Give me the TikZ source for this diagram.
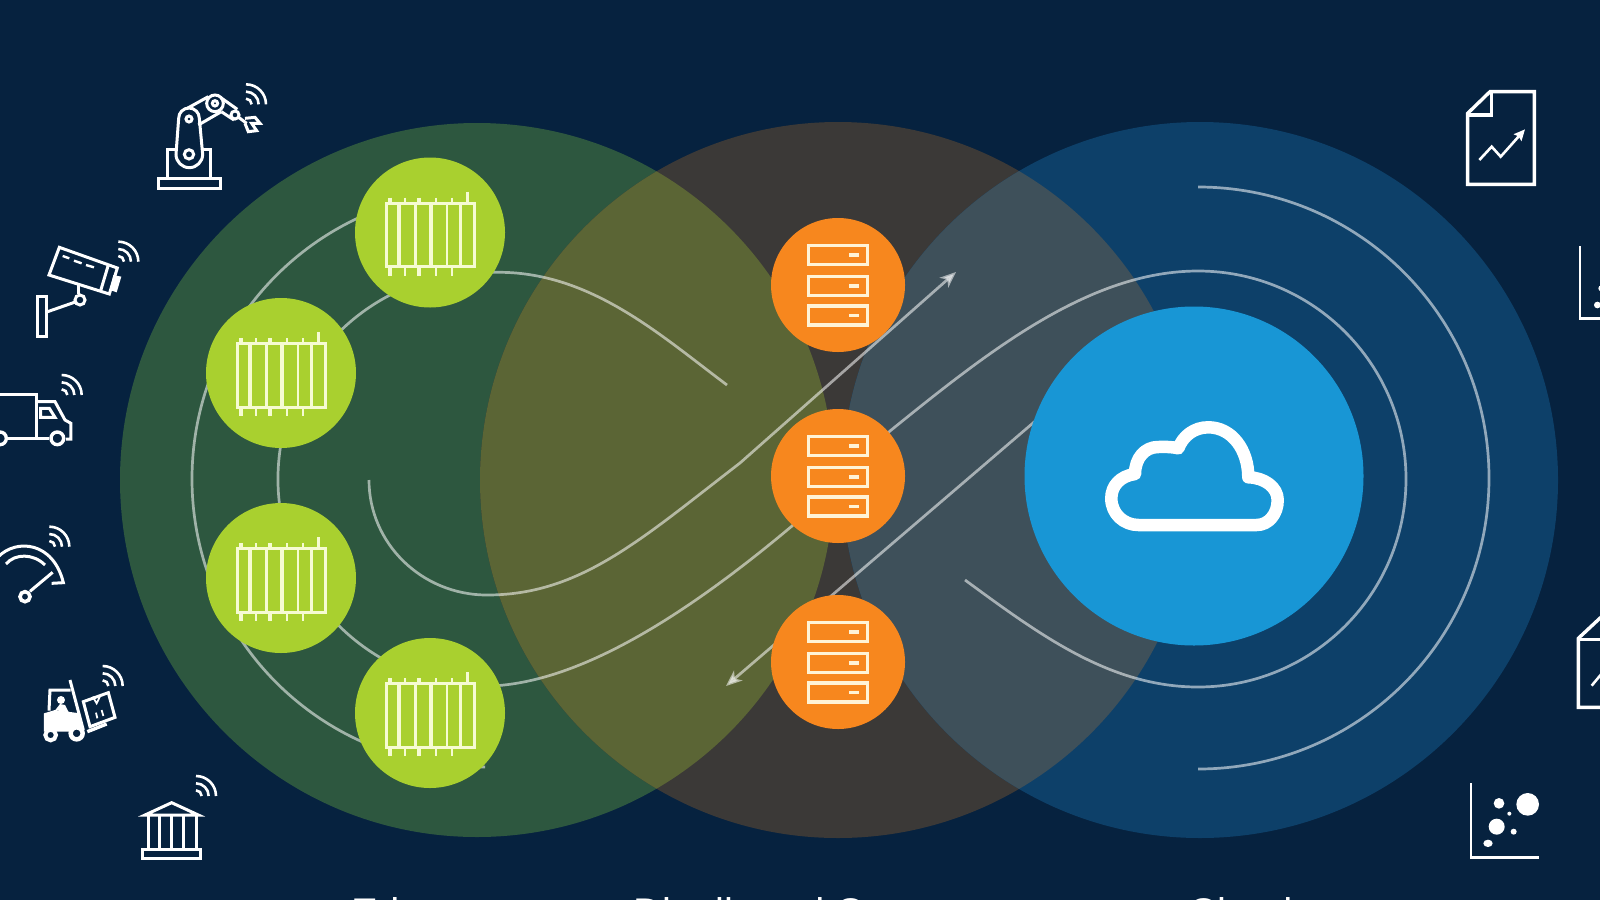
\documentclass[tikz,border=0pt]{standalone}
\usepackage{fontspec}
\setmainfont{Liberation Sans}
\usetikzlibrary{arrows.meta}
\definecolor{bgnavy}{HTML}{06223F}
\definecolor{ringgreen}{HTML}{2D573F}
\definecolor{ringmid}{HTML}{3B3937}
\definecolor{ringblue}{HTML}{0D4069}
\definecolor{mixolive}{HTML}{5B6535}
\definecolor{mixslate}{HTML}{3E505A}
\definecolor{hublime}{HTML}{A9D02F}
\definecolor{huborange}{HTML}{F7871E}
\definecolor{hubblue}{HTML}{1896D5}
\definecolor{creamline}{HTML}{FFF3D6}
\definecolor{limeline}{HTML}{F6FBD2}
\tikzset{
  flowline/.style={draw=white,opacity=.55,line width=2.7pt},
  flowtip/.style={-{Stealth[length=16pt,width=13pt,inset=4.5pt]}},
  limehub/.style={circle,fill=hublime,inner sep=0pt,minimum size=150pt},
  orangehub/.style={circle,fill=huborange,inner sep=0pt,minimum size=134pt},
  icon/.style={draw=white,line width=3pt},
  wifiarc/.style={draw=white,line width=2.6pt},
  zonelabel/.style={text=white,font=\fontsize{40}{48}\selectfont,inner sep=0pt,anchor=base west},
  rack/.pic={
    \draw[limeline,line width=3pt] (-44,-29.5) rectangle (44.7,34);
    \foreach \vx/\vw in {-31.3/3.6,-15/3,1/3.6,16.7/2.4,30/3}{\draw[limeline,line width=\vw pt] (\vx,-29.5) -- (\vx,34);}
    \foreach \tx/\tw in {-40/4,-25/2,-10.7/4,6/2,21.7/2}{
      \draw[limeline,line width=\tw pt] (\tx,-35) -- (\tx,-29.5);
      \draw[limeline,line width=\tw pt] (\tx,34) -- (\tx,43);}
    \draw[limeline,line width=2.4pt] (37.3,-41) -- (37.3,-29.5);
  },
  server/.pic={
    \foreach \ry in {-30,1,30.5}{
      \draw[creamline,line width=3.2pt] (-29.5,\ry-9.5) rectangle (29.5,\ry+9.5);
      \draw[creamline,line width=3.6pt] (11,\ry) -- (21,\ry);}
  },
  wifi/.pic={
    \foreach \wr in {17,38,60}{\draw[wifiarc] (0,-\wr) arc[start angle=-90,end angle=0,radius=\wr];}
  }
}
\begin{document}
\begin{tikzpicture}[x=1pt,y=-1pt]
\useasboundingbox (0,0) rectangle (1600,900);
\clip (0,0) rectangle (1600,900);
\fill[bgnavy] (0,0) rectangle (1600,900);
% large zones
\fill[ringgreen] (477,480) circle[radius=357];
\fill[ringmid] (838,480) circle[radius=358];
\fill[ringblue] (1200,480) circle[radius=358];
\begin{scope}
  \clip (477,480) circle[radius=357];
  \fill[mixolive] (838,480) circle[radius=358];
\end{scope}
\begin{scope}
  \clip (1200,480) circle[radius=358];
  \fill[mixslate] (838,480) circle[radius=358];
\end{scope}
% free ends of the flow lines
\coordinate (hookEnd) at (727,385);
\coordinate (hookTop) at (495.8,272.3);
\coordinate (midLow) at (792,526);
\coordinate (midHigh) at (890,431);
\coordinate (rightTop) at (1198,271);
\coordinate (tailEnd) at (965,580);
\coordinate (spiralStart) at (369,480);
\coordinate (spiralMid) at (740,463);
\coordinate (tipUp) at (956,272);
\coordinate (tipDown) at (726,686);
\coordinate (backStart) at (1040,417);
\coordinate (outerTopR) at (1198,187);
\coordinate (outerTopL) at (480,191);
% flow lines
\draw[flowline] (outerTopL) arc[start angle=-90,end angle=-271,radius=288];
\draw[flowline] (outerTopR) arc[start angle=-90,end angle=90,radius=291];
\draw[flowline] (hookEnd) .. controls (660,335) and (590,271) .. (hookTop)
   arc[start angle=-87,end angle=-273,radius=207]
   .. controls (580,680) and (680,620) .. (midLow) -- (midHigh)
   .. controls (990,350) and (1090,271) .. (rightTop)
   arc[start angle=-90,end angle=90,radius=208]
   .. controls (1110,687) and (1040,635) .. (tailEnd);
\draw[flowline,flowtip] (spiralStart) arc[start angle=180,end angle=90,x radius=118,y radius=115]
   .. controls (580,595) and (640,540) .. (spiralMid) -- (tipUp);
\draw[flowline,flowtip] (backStart) -- (tipDown);
% hubs
\node[limehub] (edgeA) at (430,232.5) {};
\node[limehub] (edgeB) at (281,373) {};
\node[limehub] (edgeC) at (281,578) {};
\node[limehub] (edgeD) at (430,713) {};
\node[orangehub] (serverA) at (838,285) {};
\node[orangehub] (serverB) at (838,476) {};
\node[orangehub] (serverC) at (838,662) {};
\node[circle,fill=hubblue,inner sep=0pt,minimum size=339pt] (cloudHub) at (1194,476) {};
\pic at (edgeA) {rack};
\pic at (edgeB) {rack};
\pic at (edgeC) {rack};
\pic at (edgeD) {rack};
\pic at (serverA) {server};
\pic at (serverB) {server};
\pic at (serverC) {server};
% cloud
\draw[white,line width=12.5pt,line join=round] (1138.3,525) -- (1256.7,525)
  .. controls (1268.7,525) and (1277.7,514) .. (1277.7,500)
  .. controls (1277.7,487) and (1264,477.5) .. (1248.3,477.3)
  .. controls (1248.3,450) and (1232,427.3) .. (1208.3,427.3)
  .. controls (1194,427.3) and (1183,436) .. (1178.3,448.3)
  .. controls (1170,446.5) and (1165,447) .. (1158,447)
  .. controls (1145,447) and (1135,458) .. (1135,474)
  .. controls (1120,476) and (1111.3,486) .. (1111.3,498.3)
  .. controls (1111.3,514) and (1124,525) .. cycle;
% left icons, upper group
\begin{scope}[shift={(0,60)},x=.33333pt,y=-.33333pt]
  % robot arm
  \draw[icon] (475,356) rectangle (663,384);
  \draw[icon] (527,268) -- (503,268) -- (503,356);
  \draw[icon] (607,268) -- (632,268) -- (632,356);
  \draw[icon] (528,283) arc[start angle=180,end angle=0,radius=40] -- (598,175)
     arc[start angle=0,end angle=-180,radius=31] -- cycle;
  \draw[icon] (567,283) circle[radius=14];
  \draw[icon] (567,177) circle[radius=9];
  \draw[icon] (560,146) -- (625,110);
  \draw[icon] (595,195) -- (664,155);
  \draw[icon] (645,130) circle[radius=25];
  \draw[icon] (645,130) circle[radius=8];
  \draw[icon] (664,114) -- (712,148);
  \draw[icon] (664,155) -- (702,180);
  \draw[icon] (705,165) circle[radius=12];
  \draw[icon] (716,172) -- (740,190);
  \draw[icon] (735,175) -- (765,172) -- (780,190) -- (755,190) -- (770,212) -- (745,215) -- (735,190);
  \pic at (738,133) {wifi};
  % camera
  \draw[icon] (178,562) -- (352,624) -- (328,702) -- (147,645) -- cycle;
  \draw[icon] (325,615) -- (302,692);
  \fill[white] (340,645) -- (364,650) -- (350,697) -- (330,690) -- cycle;
  \draw[white,line width=2.4pt] (188,588) -- (208,595) (222,602) -- (245,610) (258,615) -- (282,622);
  \draw[icon] (237,675) -- (237,703);
  \draw[icon] (240,720) circle[radius=15];
  \draw[icon] (226,726) -- (143,755);
  \draw[icon] (113,708) rectangle (140,828);
  \pic at (355,605) {wifi};
  % truck
  \draw[icon] (-5,1003) -- (110,1003) -- (110,1135);
  \draw[icon] (25,1135) -- (148,1135);
  \draw[icon] (110,1025) -- (165,1025) -- (195,1080) -- (213,1090) -- (213,1137) -- (198,1137);
  \draw[icon] (122,1045) -- (148,1045) -- (165,1072) -- (122,1072) -- cycle;
  \draw[white,line width=3.4pt] (172,1135) circle[radius=19];
  \draw[white,line width=3.4pt] (0,1135) circle[radius=19];
  \pic at (185,1005) {wifi};
\end{scope}
% left icons, lower group
\begin{scope}[shift={(0,500)},x=.33333pt,y=-.33333pt]
  % gauge
  \draw[icon] (-5,170) .. controls (50,115) and (160,125) .. (190,248) -- (155,250);
  \draw[icon] (18,192) .. controls (45,160) and (100,160) .. (135,195);
  \draw[icon] (90,274) -- (158,217);
  \draw[white,line width=3.6pt] (75,290) circle[radius=15];
  \pic at (148,140) {wifi};
  % forklift
  \fill[white] (132,695) -- (132,640) -- (165,630) -- (240,640) -- (252,695) -- cycle;
  \draw[icon] (147,632) -- (150,570) -- (212,570);
  \fill[white] (183,600) circle[radius=12];
  \fill[white] (166,630) -- (180,612) -- (195,615) -- (207,638) -- cycle;
  \draw[white,line width=3pt] (210,540) -- (250,690);
  \draw[white,line width=3.4pt] (262,695) -- (320,672);
  \draw[icon] (250,605) -- (325,578) -- (345,652) -- (270,680) -- cycle;
  \draw[white,line width=1.8pt] (292,655) -- (288,638) (310,648) -- (305,630);
  \draw[white,line width=1.8pt] (278,590) -- (290,610) -- (302,585);
  \draw[white,fill=bgnavy,line width=4pt] (152,705) circle[radius=16];
  \draw[white,fill=bgnavy,line width=4.5pt] (230,700) circle[radius=18];
  \pic at (308,558) {wifi};
  % bank
  \draw[icon] (435,945) -- (515,908) -- (595,945) -- cycle;
  \draw[icon] (428,1048) rectangle (602,1075);
  \draw[icon] (445,945) -- (445,1048) (480,945) -- (480,1048) (516,945) -- (516,1048) (552,945) -- (552,1048) (590,945) -- (590,1048);
  \pic at (588,888) {wifi};
\end{scope}
% right icons, upper group
\begin{scope}[shift={(1400,60)},x=.33333pt,y=-.33333pt]
  \draw[white,line width=3.4pt] (270,95) -- (403,95) -- (403,373) -- (203,373) -- (203,160) -- cycle;
  \draw[white,line width=3.4pt] (275,95) -- (275,165) -- (203,165);
  \draw[white,line width=2.6pt,-{Stealth[length=11pt,width=10pt,inset=1.5pt]}] (238,300) -- (275,260) -- (302,290) -- (375,208);
  \draw[white,line width=2.6pt] (540,558) -- (540,775) -- (620,775);
  \fill[white] (592,735) circle[radius=10];
  \fill[white] (604,685) circle[radius=9];
\end{scope}
% right icons, lower group
\begin{scope}[shift={(1400,590)},x=.33333pt,y=-.33333pt]
  \draw[white,line width=3.4pt] (610,75) -- (535,145) -- (535,352) -- (620,352);
  \draw[white,line width=3.4pt] (535,148) -- (620,148);
  \draw[white,line width=2.6pt] (575,287) -- (610,245);
  \draw[white,line width=2.6pt] (213,580) -- (213,802) -- (417,802);
  \fill[white] (383,643) circle[radius=34];
  \fill[white] (297,640) circle[radius=16];
  \fill[white] (290,710) circle[radius=24];
  \fill[white] (264,760) ellipse[x radius=14,y radius=11];
  \fill[white] (341,725) circle[radius=9];
  \fill[white] (328,671) circle[radius=6];
\end{scope}
% zone labels, cut by the lower edge
\node[zonelabel] (labelEdge) at (351,926) {Edge};
\node[zonelabel] (labelMid) at (633,926) {Distributed Compute};
\node[zonelabel] (labelCloud) at (1188,926) {Cloud};
\end{tikzpicture}
\end{document}
